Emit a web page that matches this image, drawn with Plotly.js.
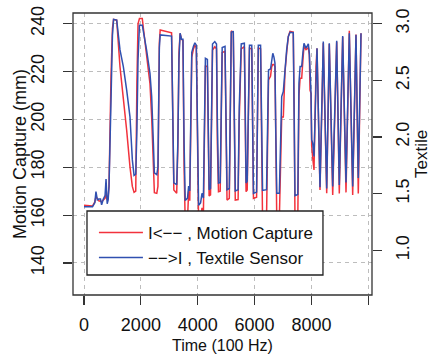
<!DOCTYPE html>
<html>
<head>
<meta charset="utf-8">
<script src="https://cdn.plot.ly/plotly-3.0.1.min.js"></script>
<style>html,body{margin:0;padding:0;background:#fff;}#chart{width:431px;height:355px;}</style>
</head>
<body>
<div id="chart"></div>
<script>
// Time samples (100 Hz)
var time = [0,300,380,420,470,520,580,620,680,740,775,815,850,880,950,1000,1040,1150,1266,1383,1500,1617,1700,1760,1820,1860,1900,1950,2050,2090,2145,2200,2320,2380,2440,2475,2560,2600,2650,2680,3080,3120,3160,3260,3300,3340,3380,3430,3480,3520,3560,3640,3680,3720,3760,3790,3850,3900,3950,3990,4030,4100,4150,4200,4240,4270,4340,4370,4400,4450,4480,4520,4600,4660,4690,4730,4790,4830,4860,4960,4990,5030,5110,5150,5180,5250,5280,5320,5420,5460,5530,5640,5670,5700,5740,5780,5820,5900,5930,5960,6070,6100,6130,6210,6240,6280,6420,6460,6490,6560,6600,6640,6680,6716,6745,6780,6870,6893,6953,7010,7069,7128,7185,7245,7360,7396,7420,7520,7560,7600,7656,7700,7737,7808,7890,7925,7949,7984,8008,8043,8089,8160,8195,8300,8416,8536,8627,8747,8887,8979,9098,9215,9331,9450,9566,9647,9742];

// Motion capture (mm), left axis
var mocap = [164.1,163.8,165.5,167.7,166.9,166,165.8,165.6,166.3,167,169,166.3,168,172,218,238,241.8,241.5,222,209.5,195.6,180.2,172,169.5,170,215,240,242.2,242.2,238,233,227.6,215,201,175,169.4,169.1,172,232,237.4,236.2,195,170.5,169.1,188,228,236,233.5,233,180,157,158,170,166,195,226,229.5,231,230,190,157,158,163,161,195,222.5,222,195,168,168.5,200,229,230.4,229.5,190,169.8,170,200,228,228.5,195,166.3,167,210,237,236.5,200,166.3,166.5,200,229.5,230.4,200,169.8,170.5,205,229.8,229.5,195,167,167.5,215,229.8,229.5,195,158,159,200,216.5,218,222,223,223,222,190,158,158.5,175,201,201,220,228,234.6,236.8,236.5,200,158,158.5,210,217.2,217.2,225,230.4,229.2,230,227,212.3,210.9,189,184,178.9,222,229.7,170.5,232,169.1,231.5,168.4,232.5,169,234.5,169.5,237.1,168.4,235.5,169,236];

// Textile sensor, right axis
var textile = [1.385,1.385,1.419,1.518,1.446,1.453,1.453,1.402,1.453,1.482,1.630,1.411,1.446,1.567,2.325,2.895,3.038,3.032,2.768,2.621,2.416,2.178,1.798,1.661,1.672,2.051,2.684,2.987,2.987,2.916,2.857,2.768,2.562,2.357,1.946,1.683,1.668,1.735,2.789,2.901,2.890,2.157,1.596,1.579,1.946,2.684,2.916,2.863,2.863,1.946,1.440,1.461,1.567,1.524,2.157,2.747,2.800,2.831,2.810,2.157,1.398,1.419,1.503,1.461,2.157,2.694,2.684,2.157,1.535,1.546,2.262,2.821,2.842,2.821,2.157,1.594,1.598,2.262,2.789,2.800,2.157,1.535,1.546,2.368,2.926,2.930,2.262,1.524,1.535,2.262,2.821,2.827,2.262,1.594,1.609,2.262,2.810,2.810,2.157,1.503,1.514,2.473,2.810,2.810,2.157,1.529,1.535,2.262,2.591,2.600,2.680,2.739,2.705,2.652,2.051,1.503,1.503,1.739,2.357,2.401,2.621,2.768,2.886,2.924,2.920,2.262,1.482,1.493,2.473,2.621,2.621,2.747,2.827,2.783,2.821,2.739,2.591,2.387,1.976,1.946,1.828,2.621,2.783,1.556,2.842,1.546,2.827,1.564,2.850,1.577,2.890,1.598,2.916,1.564,2.901,1.638,2.916];

var xTicks = [0,2000,4000,6000,8000,10000];
var xTickText = ['0','2000','4000','6000','8000',''];
var yTicks = [140,160,180,200,220,240];
var y2Ticks = [1.0,1.5,2.0,2.5,3.0];
var y2TickText = ['1.0','1.5','2.0','2.5','3.0'];
var seriesNames = ['I<\u2212\u2212 , Motion Capture', '\u2212\u2212>I , Textile Sensor'];
var xTitle = 'Time (100 Hz)', yTitle = 'Motion Capture (mm)', y2Title = 'Textile';

var RED = '#f2323c', BLUE = '#3050b0';
var traces = [
  {x: time, y: mocap, type:'scatter', mode:'lines', name: seriesNames[0], line:{color:RED, width:1.5}, yaxis:'y'},
  {x: time, y: textile, type:'scatter', mode:'lines', name: seriesNames[1], line:{color:BLUE, width:1.5}, yaxis:'y2'}
];

var TXT = '#111';
var FS = 18;
var layout = {
  width:431, height:355,
  margin:{l:73, r:59, t:13, b:60, pad:0},
  paper_bgcolor:'#fff', plot_bgcolor:'#fff',
  font:{family:'"Liberation Sans", Arial, Helvetica, sans-serif', size:FS, color:TXT},
  showlegend:true,
  legend:{x:0.07, xanchor:'left', y:0.284, yanchor:'top', bgcolor:'rgba(0,0,0,0)', borderwidth:0, font:{size:17, color:TXT}, itemwidth:44, tracegroupgap:0},
  xaxis:{range:[-387,10129], tickmode:'array', tickvals:xTicks, ticktext:xTickText, ticks:'outside', ticklen:9, tickwidth:1.2, tickcolor:'#333',
         showgrid:true, gridcolor:'#bdbdbd', gridwidth:1, griddash:'4px,4px', zeroline:false, showline:false,
         ticklabelstandoff:4},
  yaxis:{range:[126.6,244.5], tickmode:'array', tickvals:yTicks, ticks:'outside', ticklen:9, tickwidth:1.2, tickcolor:'#333', tickangle:-90,
         showgrid:true, gridcolor:'#bdbdbd', gridwidth:1, griddash:'4px,4px', zeroline:false, showline:false,
         ticklabelstandoff:12},
  yaxis2:{overlaying:'y', side:'right', range:[0.606,3.094], tickmode:'array', tickvals:y2Ticks, ticktext:y2TickText, ticks:'outside', ticklen:9, tickwidth:1.2, tickcolor:'#333', tickangle:-90,
         showgrid:false, zeroline:false, showline:false,
         ticklabelstandoff:5},
  annotations:[
    {text:xTitle, xref:'paper', yref:'paper', x:0.5, y:-0.1791, xanchor:'center', yanchor:'middle', showarrow:false, font:{size:16, color:TXT}},
    {text:yTitle, xref:'paper', yref:'paper', x:-0.177, y:0.5, xanchor:'center', yanchor:'middle', textangle:-90, showarrow:false, font:{size:FS, color:TXT}},
    {text:y2Title, xref:'paper', yref:'paper', x:1.1639, y:0.5, xanchor:'center', yanchor:'middle', textangle:-90, showarrow:false, font:{size:17, color:TXT}}
  ],
  shapes:[
    {type:'rect', xref:'paper', yref:'paper', x0:0, x1:1, y0:0, y1:1, line:{color:'#333', width:1.3}, layer:'above'},
    {type:'rect', xref:'paper', yref:'paper', x0:0.0468, x1:0.836, y0:0.0709, y1:0.2979, fillcolor:'#fff', line:{color:'#222', width:1.3}, layer:'above'}
  ]
};

Plotly.newPlot('chart', traces, layout, {displayModeBar:false, staticPlot:true});
</script>
</body>
</html>
